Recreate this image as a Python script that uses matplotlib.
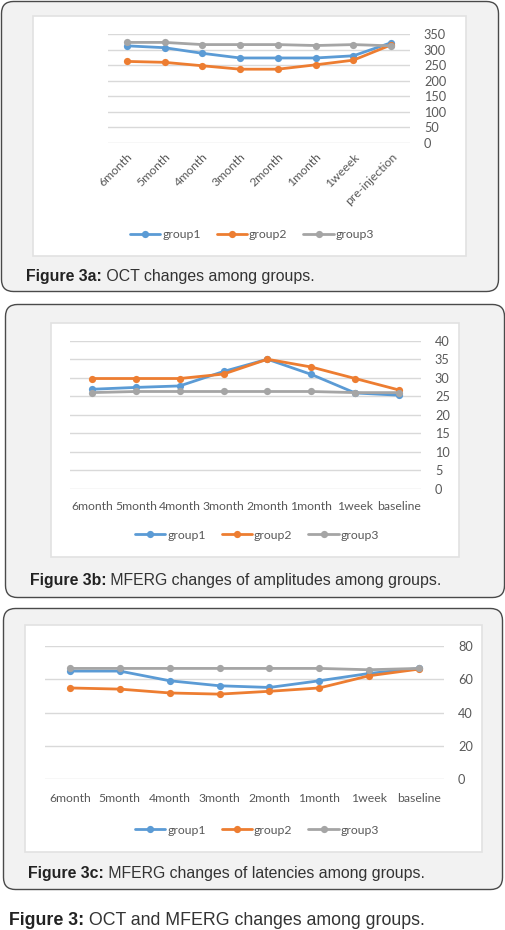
import matplotlib
matplotlib.use("Agg")
import matplotlib.pyplot as plt
from matplotlib.patches import FancyBboxPatch

# ---------------- data ----------------
cats_a = ["6month", "5month", "4month", "3month", "2month", "1month", "1weeek", "pre-injection"]
a_group1 = [312, 306, 288, 273, 273, 273, 280, 322]
a_group2 = [262, 259, 248, 237, 237, 251, 266, 315]
a_group3 = [323, 323, 316, 316, 316, 313, 316, 312]
a_ticks = [0, 50, 100, 150, 200, 250, 300, 350]

cats_bc = ["6month", "5month", "4month", "3month", "2month", "1month", "1week", "baseline"]
b_group1 = [26.9, 27.4, 27.8, 31.7, 35.0, 30.9, 25.9, 25.3]
b_group2 = [29.8, 29.8, 29.8, 31.0, 35.0, 32.9, 29.8, 26.7]
b_group3 = [26.0, 26.3, 26.3, 26.3, 26.3, 26.3, 26.0, 26.0]
b_ticks = [0, 5, 10, 15, 20, 25, 30, 35, 40]

c_group1 = [64.8, 64.8, 59.0, 56.0, 55.0, 59.0, 63.4, 66.4]
c_group2 = [54.7, 54.0, 51.7, 51.0, 52.7, 54.7, 62.0, 66.0]
c_group3 = [66.4, 66.4, 66.4, 66.4, 66.4, 66.4, 65.6, 66.4]
c_ticks = [0, 20, 40, 60, 80]

series_names = ["group1", "group2", "group3"]
colors = ["#5B9BD5", "#ED7D31", "#A5A5A5"]

captions = [
    ("Figure 3a:", " OCT changes among groups."),
    ("Figure 3b:", " MFERG changes of amplitudes among groups."),
    ("Figure 3c:", " MFERG changes of latencies among groups."),
]
final_caption = ("Figure 3:", " OCT and MFERG changes among groups.")

# ---------------- layout (pixels) ----------------
W, H = 506, 930
fig = plt.figure(figsize=(W / 100, H / 100), dpi=100)
fig.patch.set_facecolor("white")

bg = fig.add_axes([0, 0, 1, 1], zorder=0)
bg.set_xlim(0, W)
bg.set_ylim(H, 0)
bg.axis("off")

outer_boxes = [(1, 1, 498, 291), (5, 304, 500, 294), (3, 608, 500, 282)]
inner_boxes = [(33, 16, 433, 240), (51, 323, 408, 234), (25, 625, 457, 227)]
for (x, y, w, h) in outer_boxes:
    bg.add_patch(FancyBboxPatch((x + 0.5, y + 0.5), w - 1, h - 1,
                                boxstyle="round,pad=0,rounding_size=12",
                                facecolor="#F2F2F2", edgecolor="#4A4A4A", lw=1.0))
for (x, y, w, h) in inner_boxes:
    bg.add_patch(plt.Rectangle((x, y), w, h, facecolor="white",
                               edgecolor="#E2E2E2", lw=1.2))

label_font = "Lato"
tick_color = "#595959"
fs = 8.8


def make_chart(px, series, cats, ticks, rot, legend_center, xpad):
    x0, y0, x1, y1 = px
    ax = fig.add_axes([x0 / W, 1 - y1 / H, (x1 - x0) / W, (y1 - y0) / H], zorder=2)
    ax.set_facecolor("none")
    xs = list(range(len(cats)))
    handles = []
    for vals, c, name in zip(series, colors, series_names):
        ln, = ax.plot(xs, vals, color=c, lw=2.0, marker="o", ms=5.2,
                      markeredgewidth=0, label=name, solid_capstyle="round", zorder=3)
        handles.append(ln)
    ax.set_xlim(-0.5, len(cats) - 0.5)
    ax.set_ylim(ticks[0], ticks[-1])
    ax.set_yticks(ticks)
    ax.yaxis.tick_right()
    ax.grid(axis="y", color="#D9D9D9", lw=1.0, zorder=0)
    ax.set_axisbelow(True)
    for s in ax.spines.values():
        s.set_visible(False)
    ax.tick_params(axis="y", length=0, pad=10, labelcolor=tick_color, labelsize=fs + 0.4)
    ax.tick_params(axis="x", length=0, pad=xpad, labelcolor=tick_color, labelsize=fs)
    ax.set_xticks(xs)
    if rot:
        ax.set_xticklabels(cats, rotation=45, ha="right", va="top", rotation_mode="anchor")
    else:
        ax.set_xticklabels(cats)
    for t in ax.get_xticklabels() + ax.get_yticklabels():
        t.set_fontfamily(label_font)
    cx, cy = legend_center
    leg = ax.legend(handles=handles, loc="center", bbox_to_anchor=(cx / W, 1 - cy / H),
                    bbox_transform=fig.transFigure, ncol=3, frameon=False,
                    handlelength=2.5, handletextpad=0.15, columnspacing=1.3,
                    prop={"family": label_font, "size": fs})
    for t in leg.get_texts():
        t.set_color(tick_color)
    return ax


make_chart((108, 34, 410, 143), [a_group1, a_group2, a_group3], cats_a, a_ticks, True, (252, 235), 6)
make_chart((70, 340.7, 421, 489), [b_group1, b_group2, b_group3], cats_bc, b_ticks, False, (257, 535), 9)
make_chart((45, 645.7, 444, 779.3), [c_group1, c_group2, c_group3], cats_bc, c_ticks, False, (257, 830), 10)

# ---------------- captions ----------------
renderer = fig.canvas.get_renderer()


def caption(x, y, parts, size):
    b = bg.text(x, y, parts[0], fontsize=size, fontweight="bold", family="Liberation Sans",
                color="#222222", va="center", ha="left")
    ext = b.get_window_extent(renderer=renderer)
    x2 = x + ext.width
    bg.text(x2, y, parts[1], fontsize=size, family="Liberation Sans",
            color="#333333", va="center", ha="left")


caption(26, 276, captions[0], 11.4)
caption(30, 580, captions[1], 11.4)
caption(28, 873, captions[2], 11.4)
caption(9, 920, final_caption, 12.8)

fig.savefig("out.png", dpi=100, facecolor="white")
